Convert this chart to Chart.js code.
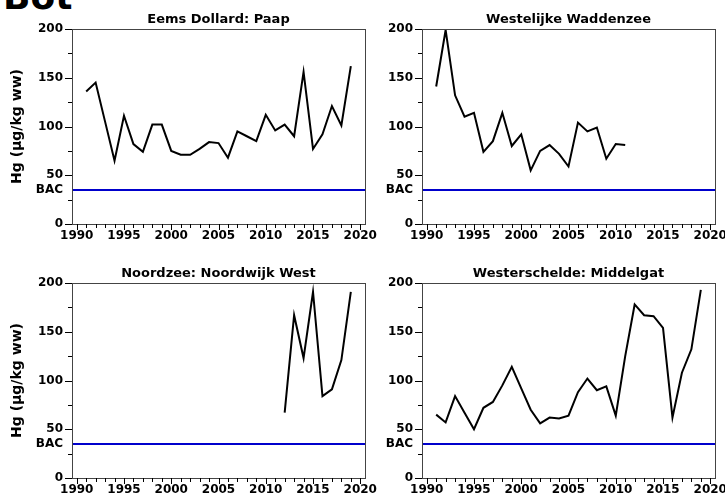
<!DOCTYPE html>
<html>
<head>
<meta charset="utf-8">
<script src="https://cdn.jsdelivr.net/npm/chart.js@4"></script>
<style>
  html, body { margin: 0; padding: 0; background: #fff; overflow: hidden; }
  #wrap { position: relative; width: 725px; height: 500px; }
  #wrap canvas { position: absolute; }
  #bot { position: absolute; left: 3px; top: -21px; font: bold 36px "DejaVu Sans"; line-height: 36px; color: #000; }
</style>
</head>
<body>
<div id="wrap">
  <div id="bot">Bot</div>
  <canvas id="c1" width="385" height="250" style="left:0;top:0"></canvas>
  <canvas id="c2" width="375" height="250" style="left:360px;top:0"></canvas>
  <canvas id="c3" width="385" height="250" style="left:0;top:250px"></canvas>
  <canvas id="c4" width="375" height="250" style="left:360px;top:250px"></canvas>
</div>
<script>
// Hg in bot (µg/kg ww), per meetlocatie
const BAC = 35;

const yearsPaap = [1991,1992,1993,1994,1995,1996,1997,1998,1999,2000,2001,2002,2003,2004,2005,2006,2007,2008,2009,2010,2011,2012,2013,2014,2015,2016,2017,2018,2019];
const hgPaap = [136,145,105,65,111,82,74,102,102,75,71,71,77,84,83,68,95,90,85,112,96,102,90,156,77,92,121,101,162];

const yearsWadden = [1991,1992,1993,1994,1995,1996,1997,1998,1999,2000,2001,2002,2003,2004,2005,2006,2007,2008,2009,2010,2011];
const hgWadden = [141,199,132,110,114,74,85,114,80,92,55,75,81,72,59,104,95,99,67,82,81];

const yearsNoordwijk = [2012,2013,2014,2015,2016,2017,2018,2019];
const hgNoordwijk = [67,167,123,191,84,91,121,191];

const yearsMiddelgat = [1991,1992,1993,1994,1995,1996,1997,1998,1999,2000,2001,2002,2003,2004,2005,2006,2007,2008,2009,2010,2011,2012,2013,2014,2015,2016,2017,2018,2019];
const hgMiddelgat = [65,57,84,67,50,72,78,95,114,92,70,56,62,61,64,88,102,90,94,64,125,178,167,166,154,62,108,132,193];

const xTicks = [1990,1991,1992,1993,1994,1995,1996,1997,1998,1999,2000,2001,2002,2003,2004,2005,2006,2007,2008,2009,2010,2011,2012,2013,2014,2015,2016,2017,2018,2019,2020];
const yTicks = [0,25,BAC,50,75,100,125,150,175,200];

Chart.defaults.font.family = "DejaVu Sans";
Chart.defaults.font.weight = "bold";
Chart.defaults.font.size = 12;
Chart.defaults.color = "#000";

// frame + tick marks (major/minor)
const frame = {
  id: "frame",
  afterDraw(chart) {
    const { ctx, chartArea: a, scales: { x, y } } = chart;
    ctx.save();
    ctx.lineWidth = 1;
    ctx.strokeStyle = "#444";
    ctx.strokeRect(Math.round(a.left) + 0.5, Math.round(a.top) + 0.5, Math.round(a.width), Math.round(a.height));
    ctx.strokeStyle = "#000";
    ctx.beginPath();
    x.ticks.forEach(t => {
      const px = Math.round(x.getPixelForValue(t.value)) + 0.5;
      const len = t.value % 5 === 0 ? 6 : 4;
      ctx.moveTo(px, a.bottom);
      ctx.lineTo(px, a.bottom + len);
    });
    y.ticks.forEach(t => {
      if (t.value === BAC) return;
      const py = Math.round(y.getPixelForValue(t.value)) + 0.5;
      const len = t.value % 50 === 0 ? 7 : 4;
      ctx.moveTo(a.left - len, py);
      ctx.lineTo(a.left, py);
    });
    ctx.stroke();
    ctx.restore();
  }
};

function makePanel(id, title, years, values, o) {
  new Chart(document.getElementById(id), {
    type: "line",
    data: {
      datasets: [
        {
          data: years.map((yr, i) => ({ x: yr, y: values[i] })),
          borderColor: "#000",
          borderWidth: 2,
          pointRadius: 0,
          tension: 0
        },
        {
          data: [{ x: 1989.5, y: BAC }, { x: 2020.5, y: BAC }],
          borderColor: "#0000cc",
          borderWidth: 2,
          pointRadius: 0
        }
      ]
    },
    options: {
      responsive: false,
      animation: false,
      events: [],
      layout: { padding: { left: 0, right: 20, top: 0, bottom: o.padBottom } },
      plugins: {
        legend: { display: false },
        tooltip: { enabled: false },
        title: {
          display: true,
          text: title,
          fullSize: false,
          color: "#000",
          font: { size: 13, weight: "bold" },
          padding: { top: o.titleTop, bottom: o.titleBottom }
        }
      },
      scales: {
        x: {
          type: "linear",
          min: 1989.5,
          max: 2020.5,
          afterBuildTicks: s => { s.ticks = xTicks.map(v => ({ value: v })); },
          afterFit: s => { s.height = 20; },
          ticks: {
            autoSkip: false,
            maxRotation: 0,
            padding: 0,
            callback: v => (v % 5 === 0 ? String(v) : "")
          },
          grid: { display: false, drawTicks: true, tickLength: 5 },
          border: { display: false }
        },
        y: {
          min: 0,
          max: 200,
          afterBuildTicks: s => { s.ticks = yTicks.map(v => ({ value: v })); },
          afterFit: s => { s.width = o.yWidth; },
          ticks: {
            autoSkip: false,
            padding: 2,
            callback: v => (v === BAC ? "BAC" : v % 50 === 0 ? String(v) : "")
          },
          grid: { display: false, drawTicks: true, tickLength: 7 },
          border: { display: false },
          title: {
            display: o.yTitle,
            text: "Hg (µg/kg ww)",
            color: "#000",
            font: { size: 14, weight: "bold" },
            padding: { top: 9, bottom: 0 }
          }
        }
      }
    },
    plugins: [frame]
  });
}

makePanel("c1", "Eems Dollard: Paap", yearsPaap, hgPaap,
  { yWidth: 72, yTitle: true, titleTop: 12, titleBottom: 1.4, padBottom: 6 });
makePanel("c2", "Westelijke Waddenzee", yearsWadden, hgWadden,
  { yWidth: 62, yTitle: false, titleTop: 12, titleBottom: 1.4, padBottom: 6 });
makePanel("c3", "Noordzee: Noordwijk West", yearsNoordwijk, hgNoordwijk,
  { yWidth: 72, yTitle: true, titleTop: 16, titleBottom: 1.4, padBottom: 2 });
makePanel("c4", "Westerschelde: Middelgat", yearsMiddelgat, hgMiddelgat,
  { yWidth: 62, yTitle: false, titleTop: 16, titleBottom: 1.4, padBottom: 2 });
</script>
</body>
</html>
